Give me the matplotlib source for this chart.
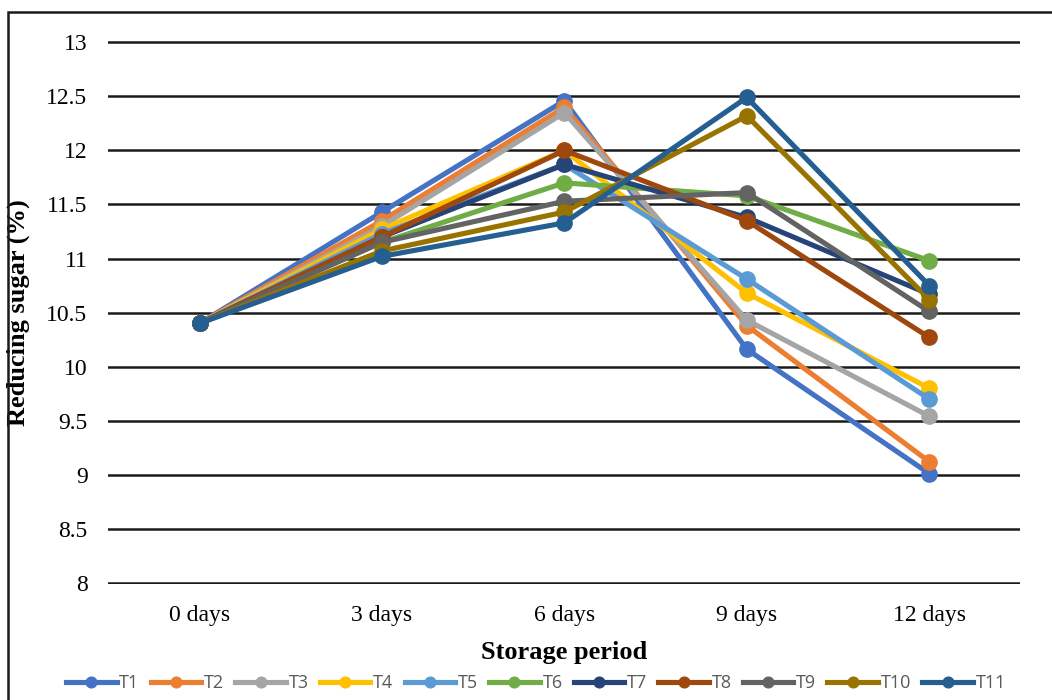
import matplotlib.pyplot as plt
from matplotlib.patches import Rectangle

days = ["0 days", "3 days", "6 days", "9 days", "12 days"]
treatments = ["T1", "T2", "T3", "T4", "T5", "T6", "T7", "T8", "T9", "T10", "T11"]

# reducing sugar (%) per treatment over storage
T1 = [10.40, 11.43, 12.46, 10.16, 9.01]
T2 = [10.40, 11.35, 12.40, 10.38, 9.12]
T3 = [10.40, 11.30, 12.35, 10.43, 9.54]
T4 = [10.40, 11.27, 12.00, 10.68, 9.80]
T5 = [10.40, 11.23, 11.87, 10.81, 9.70]
T6 = [10.40, 11.15, 11.70, 11.58, 10.98]
T7 = [10.40, 11.20, 11.87, 11.38, 10.67]
T8 = [10.40, 11.20, 12.00, 11.35, 10.27]
T9 = [10.40, 11.15, 11.53, 11.61, 10.51]
T10 = [10.40, 11.07, 11.43, 12.32, 10.62]
T11 = [10.40, 11.02, 11.33, 12.49, 10.75]
series = [T1, T2, T3, T4, T5, T6, T7, T8, T9, T10, T11]

colors = ["#4472C4", "#ED7D31", "#A5A5A5", "#FFC000", "#5B9BD5", "#70AD47",
          "#264478", "#9E480E", "#636363", "#997300", "#255E91"]

fig = plt.figure(figsize=(10.52, 7), dpi=100)
ax = fig.add_axes([0.103, 0.166, 0.867, 0.775])

x = range(len(days))
for name, vals, c in zip(treatments, series, colors):
    ax.plot(x, vals, color=c, lw=3.7, marker="o", ms=11, label=name,
            solid_joinstyle="round")

ax.set_xlim(-0.5, 4.5)
ax.set_ylim(7.99, 13.01)
ax.set_yticks([8, 8.5, 9, 9.5, 10, 10.5, 11, 11.5, 12, 12.5, 13])
ax.set_yticklabels(["8", "8.5", "9", "9.5", "10", "10.5", "11", "11.5", "12", "12.5", "13"])
ax.set_xticks(list(x))
ax.set_xticklabels(days)
ax.grid(axis="y", color="#1a1a1a", lw=1.8)
ax.set_axisbelow(True)
for s in ax.spines.values():
    s.set_visible(False)
ax.tick_params(length=0, labelsize=17)
ax.tick_params(axis="y", pad=15)
ax.tick_params(axis="x", pad=15)
for lab in ax.get_xticklabels() + ax.get_yticklabels():
    lab.set_family("Liberation Serif")

ax.set_xlabel("Storage period", family="Liberation Serif", fontweight="bold",
              fontsize=19, labelpad=11)
ax.set_ylabel("Reducing sugar (%)", family="Liberation Serif", fontweight="bold",
              fontsize=19)
ax.yaxis.set_label_coords((30 - 108) / 912, 0.5)

leg = ax.legend(loc="center", bbox_to_anchor=(536 / 1052, 1 - 683 / 700), bbox_transform=fig.transFigure,
                ncol=11, frameon=False, handlelength=2.8, handletextpad=0.15,
                columnspacing=0.62, markerscale=0.7,
                prop={"family": "Open Sans", "size": 13})
for t in leg.get_texts():
    t.set_color("#595959")

# outer frame
fig.patches.append(Rectangle((8 / 1052, -0.1), 1.2, 1 - 12 / 700 + 0.1,
                             transform=fig.transFigure, fill=False,
                             edgecolor="#1a1a1a", lw=1.8))

fig.savefig("out.png", dpi=100)
